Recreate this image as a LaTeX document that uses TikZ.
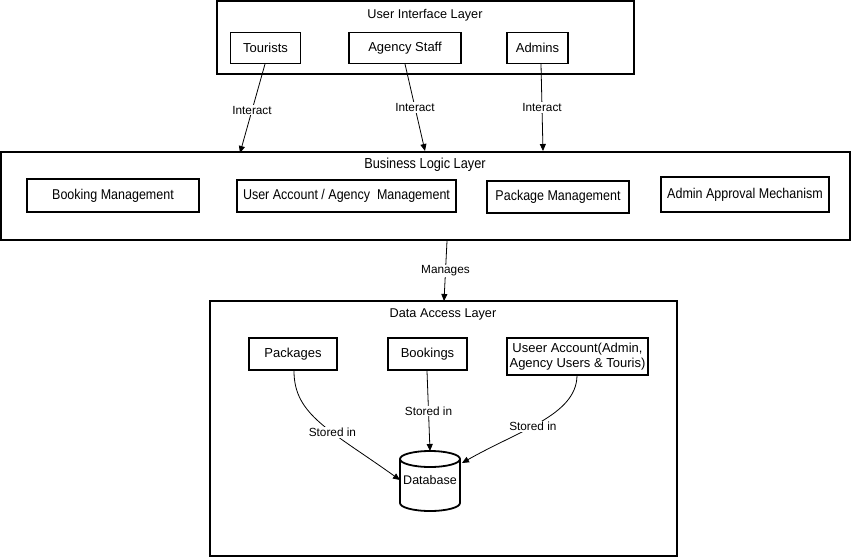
\documentclass[tikz,border=0pt]{standalone}
\usepackage{fontspec}
\setmainfont{Liberation Sans}
\newfontfamily\narrowfont[FakeStretch=0.88]{Liberation Sans}
\usetikzlibrary{arrows.meta}
\begin{document}
\begin{tikzpicture}[x=1pt,y=-1pt,
  layer/.style={draw,line width=1.8pt},
  box/.style={draw,line width=1.8pt,inner sep=0pt,font=\fontsize{13}{15}\selectfont},
  nbox/.style={draw,line width=1.8pt,inner sep=0pt,font=\narrowfont\fontsize{14.2}{16}\selectfont},
  ttl/.style={font=\fontsize{12.7}{15}\selectfont},
  lbl/.style={font=\fontsize{11.8}{14}\selectfont,fill=white,inner sep=1pt},
  conn/.style={line width=0.8pt,-{Triangle[length=7pt,width=6pt]}}]
\useasboundingbox (0,0) rectangle (852,558);
\fill[white] (0,0) rectangle (852,558);
% UI layer
\draw[layer] (217,1) rectangle (634,74);
\node[ttl] (uit) at (425,15) {User Interface Layer};
\node[box,minimum width=70pt,minimum height=31pt] (tour) at (265.5,48) {Tourists};
\node[box,minimum width=112pt,minimum height=31pt] (staff) at (405,48) {Agency Staff};
\node[box,minimum width=61pt,minimum height=31pt] (adm) at (537.5,48) {Admins};
% Business layer
\draw[layer] (1,152) rectangle (850,240);
\node[font=\narrowfont\fontsize{14.5}{16}\selectfont] (blt) at (425,165) {Business Logic Layer};
\node[nbox,minimum width=172pt,minimum height=33pt] (bm) at (113,195.5) {Booking Management};
\node[nbox,minimum width=219pt,minimum height=32pt] (uam) at (346.5,196) {User Account / Agency~~Management};
\node[nbox,minimum width=142pt,minimum height=32pt] (pm) at (558,197) {Package Management};
\node[nbox,minimum width=168pt,minimum height=35pt] (aam) at (745,194.5) {Admin Approval Mechanism};
\coordinate (b1) at (240,153);
\coordinate (b2) at (425,151);
\coordinate (b3) at (543,151);
\coordinate (t1) at (265,64);
\coordinate (t2) at (405,64);
\coordinate (t3) at (541,64);
\draw[conn] (t1) -- node[lbl,pos=0.52] {Interact} (b1);
\draw[conn] (t2) -- node[lbl,pos=0.5] {Interact} (b2);
\draw[conn] (t3) -- node[lbl,pos=0.5] {Interact} (b3);
% Data layer
\draw[layer] (210,301) rectangle (677,556);
\node[ttl] (dat) at (443,314) {Data Access Layer};
\coordinate (m1) at (447,241);
\coordinate (m2) at (444,301);
\draw[conn] (m1) -- node[lbl,pos=0.5] {Manages} (m2);
\node[box,minimum width=88pt,minimum height=32pt] (pk) at (293,354) {Packages};
\node[box,minimum width=79pt,minimum height=32pt] (bk) at (427.5,354) {Bookings};
\node[box,minimum width=141pt,minimum height=37pt,align=center,font=\fontsize{13}{15}\selectfont] (ua) at (577.5,356.5) {Useer Account(Admin,\\Agency Users \& Touris)};
% database cylinder
\draw[line width=1.8pt,fill=white] (400,459) -- (400,503) arc[start angle=180,end angle=360,x radius=30pt,y radius=8pt] -- (460,459);
\draw[line width=1.8pt] (430,459) ellipse[x radius=30pt,y radius=8pt];
\node[font=\fontsize{12.5}{15}\selectfont] (db) at (430,480) {Database};
\coordinate (d1) at (400,480);
\coordinate (d2) at (430,451);
\coordinate (d3) at (462,463);
\coordinate (s1) at (294,371);
\coordinate (s2) at (427,371);
\coordinate (s3) at (577,376);
\draw[conn] (s1) .. controls (294,415) and (330,430) .. node[lbl,pos=0.6] {Stored in} (d1);
\draw[conn] (s2) -- node[lbl,pos=0.5] {Stored in} (d2);
\draw[conn] (s3) .. controls (576,415) and (520,430) .. node[lbl,pos=0.56] {Stored in} (d3);
\end{tikzpicture}
\end{document}
